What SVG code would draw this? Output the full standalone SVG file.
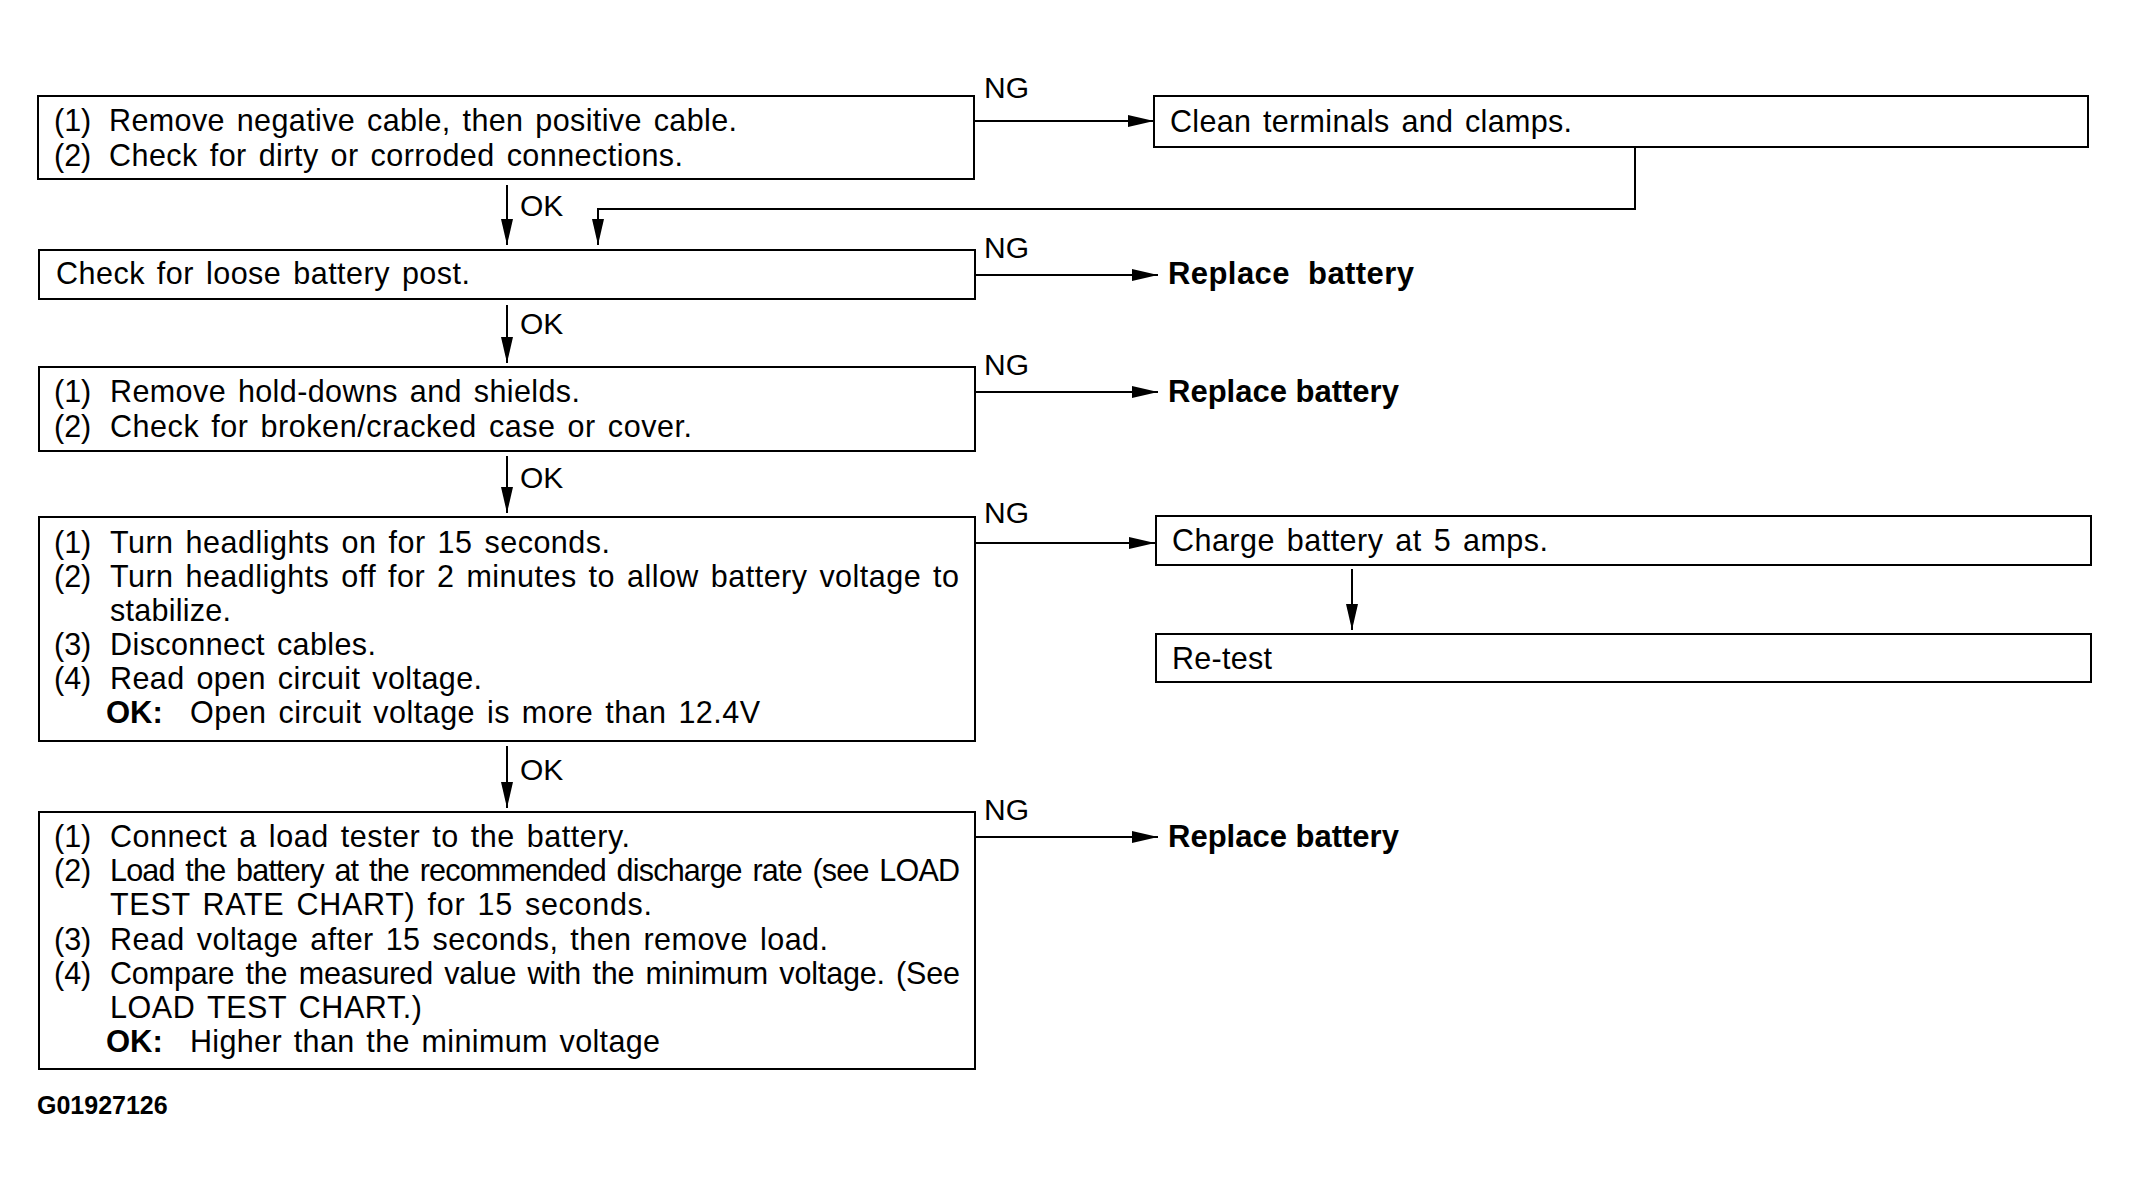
<svg xmlns="http://www.w3.org/2000/svg" width="2129" height="1190" viewBox="0 0 2129 1190">
<style>
.box{fill:#fff;stroke:#000;stroke-width:2}
.t{font-family:"Liberation Sans",Arial,sans-serif;font-size:30.5px;word-spacing:3px;fill:#000}
.b{font-family:"Liberation Sans",Arial,sans-serif;font-size:31px;font-weight:bold;fill:#000}
.lbl{font-family:"Liberation Sans",Arial,sans-serif;font-size:30px;fill:#000}
.con{fill:none;stroke:#000;stroke-width:2}
</style>
<defs>
<marker id="ah" markerUnits="userSpaceOnUse" markerWidth="27" markerHeight="14" refX="26" refY="7" orient="auto">
<path d="M0,1 L26,7 L0,13 z" fill="#000"/>
</marker>
</defs>
<rect width="2129" height="1190" fill="#fff"/>
<g id="connectors">
<path class="con" d="M974,121 H1154" marker-end="url(#ah)"/>
<path class="con" d="M975,275 H1158" marker-end="url(#ah)"/>
<path class="con" d="M975,392 H1158" marker-end="url(#ah)"/>
<path class="con" d="M975,543 H1155" marker-end="url(#ah)"/>
<path class="con" d="M975,837 H1158" marker-end="url(#ah)"/>
<path class="con" d="M507,185 V245" marker-end="url(#ah)"/>
<path class="con" d="M507,305 V363" marker-end="url(#ah)"/>
<path class="con" d="M507,456 V513" marker-end="url(#ah)"/>
<path class="con" d="M507,746 V808" marker-end="url(#ah)"/>
<path class="con" d="M1635,147 V209 H598 V245" marker-end="url(#ah)"/>
<path class="con" d="M1352,569 V630" marker-end="url(#ah)"/>
<text class="lbl" x="984" y="98">NG</text>
<text class="lbl" x="984" y="258">NG</text>
<text class="lbl" x="984" y="375">NG</text>
<text class="lbl" x="984" y="523">NG</text>
<text class="lbl" x="984" y="820">NG</text>
<text class="lbl" x="520" y="216">OK</text>
<text class="lbl" x="520" y="334">OK</text>
<text class="lbl" x="520" y="488">OK</text>
<text class="lbl" x="520" y="780">OK</text>
</g>
<g id="box1">
<rect class="box" x="38" y="96" width="936" height="83"/>
<text class="t" x="54" y="131">(1)</text>
<text class="t" x="109" y="131" textLength="628">Remove negative cable, then positive cable.</text>
<text class="t" x="54" y="166">(2)</text>
<text class="t" x="109" y="166" textLength="574">Check for dirty or corroded connections.</text>
</g>
<g id="clean">
<rect class="box" x="1154" y="96" width="934" height="51"/>
<text class="t" x="1170" y="132" textLength="402">Clean terminals and clamps.</text>
</g>
<g id="box2">
<rect class="box" x="39" y="250" width="936" height="49"/>
<text class="t" x="56" y="284" textLength="414">Check for loose battery post.</text>
</g>
<g id="replace1">
<text class="b" x="1168" y="284" xml:space="preserve" textLength="246">Replace  battery</text>
</g>
<g id="box3">
<rect class="box" x="39" y="367" width="936" height="84"/>
<text class="t" x="54" y="402">(1)</text>
<text class="t" x="110" y="402" textLength="470">Remove hold-downs and shields.</text>
<text class="t" x="54" y="437">(2)</text>
<text class="t" x="110" y="437" textLength="582">Check for broken/cracked case or cover.</text>
</g>
<g id="replace2">
<text class="b" x="1168" y="402">Replace battery</text>
</g>
<g id="box4">
<rect class="box" x="39" y="517" width="936" height="224"/>
<text class="t" x="54" y="553">(1)</text>
<text class="t" x="110" y="553" textLength="500">Turn headlights on for 15 seconds.</text>
<text class="t" x="54" y="587">(2)</text>
<text class="t" x="110" y="587" textLength="849">Turn headlights off for 2 minutes to allow battery voltage to</text>
<text class="t" x="110" y="621" textLength="121">stabilize.</text>
<text class="t" x="54" y="655">(3)</text>
<text class="t" x="110" y="655" textLength="266">Disconnect cables.</text>
<text class="t" x="54" y="689">(4)</text>
<text class="t" x="110" y="689" textLength="372">Read open circuit voltage.</text>
<text class="b" x="106" y="723">OK:</text>
<text class="t" x="190" y="723" textLength="570">Open circuit voltage is more than 12.4V</text>
</g>
<g id="charge">
<rect class="box" x="1156" y="516" width="935" height="49"/>
<text class="t" x="1172" y="551" textLength="376">Charge battery at 5 amps.</text>
</g>
<g id="retest">
<rect class="box" x="1156" y="634" width="935" height="48"/>
<text class="t" x="1172" y="669" textLength="100">Re-test</text>
</g>
<g id="box5">
<rect class="box" x="39" y="812" width="936" height="257"/>
<text class="t" x="54" y="847">(1)</text>
<text class="t" x="110" y="847" textLength="520">Connect a load tester to the battery.</text>
<text class="t" x="54" y="881">(2)</text>
<text class="t" x="110" y="881" textLength="850">Load the battery at the recommended discharge rate (see LOAD</text>
<text class="t" x="110" y="915" textLength="542">TEST RATE CHART) for 15 seconds.</text>
<text class="t" x="54" y="950">(3)</text>
<text class="t" x="110" y="950" textLength="718">Read voltage after 15 seconds, then remove load.</text>
<text class="t" x="54" y="984">(4)</text>
<text class="t" x="110" y="984" textLength="850">Compare the measured value with the minimum voltage. (See</text>
<text class="t" x="110" y="1018" textLength="312">LOAD TEST CHART.)</text>
<text class="b" x="106" y="1052">OK:</text>
<text class="t" x="190" y="1052" textLength="470">Higher than the minimum voltage</text>
</g>
<g id="replace3">
<text class="b" x="1168" y="847">Replace battery</text>
</g>
<text x="37" y="1114" font-family="Liberation Sans, Arial, sans-serif" font-size="25" font-weight="bold">G01927126</text>
</svg>
